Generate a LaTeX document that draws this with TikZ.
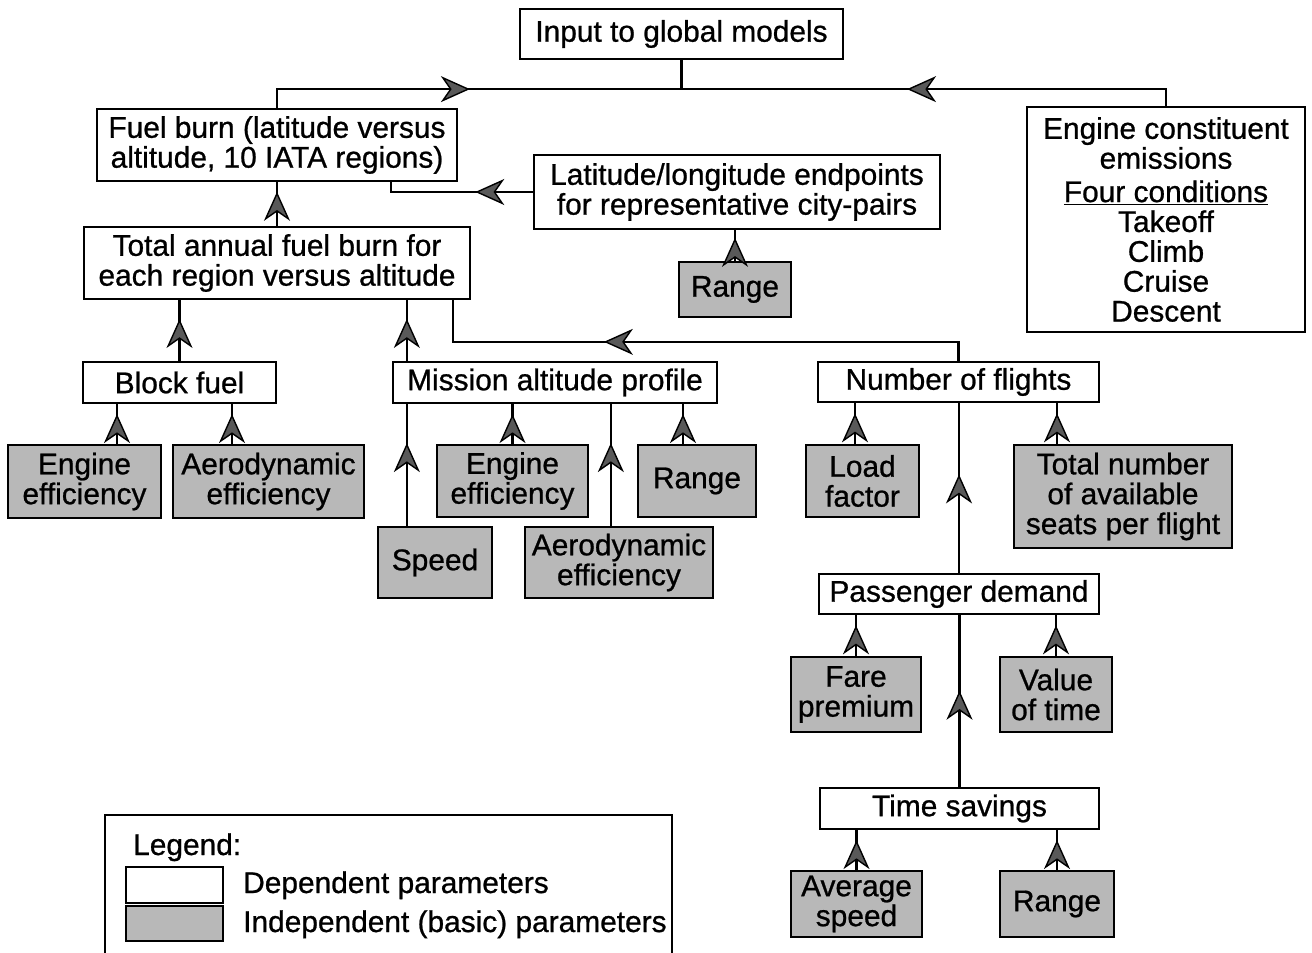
\documentclass[tikz,border=0pt]{standalone}
\usepackage{fontspec}
\setmainfont{Liberation Sans}[UprightFeatures={FakeBold=0.8}]
\usetikzlibrary{arrows.meta,calc,decorations.markings}
\newcommand{\diafont}{\fontsize{17pt}{17pt}\selectfont}
\tikzset{flowtip/.tip={Stealth[length=5.8mm,width=5.2mm,inset=1.8mm,fill=black!65]}}

\begin{document}
\begin{tikzpicture}[x=0.2mm,y=-0.2mm,
  box/.style={draw, line width=1.3pt, inner sep=0pt, align=center, font=\diafont},
  dep/.style={box, fill=white},
  ind/.style={box, fill=black!28},
  link/.style={line width=1.3pt},
  feed/.style={link, postaction={decorate},
    decoration={markings, mark=at position #1 with {\arrow[line width=0.8pt]{flowtip}}}},
  feed/.default=0.75]
\useasboundingbox (0,0) rectangle (1312,953);

% top row
\node[dep, minimum width=64.6mm, minimum height=10mm] (inp) at (681.5,34) {Input to global models};
\node[dep, minimum width=72mm, minimum height=14.4mm] (fb) at (277,145) {Fuel burn (latitude versus\\altitude, 10 IATA regions)};
\node[dep, minimum width=55.6mm, minimum height=45mm] (eng) at (1166,219.5) {Engine constituent\\emissions\\[2pt]\underline{Four conditions}\\Takeoff\\Climb\\Cruise\\Descent};
\node[dep, minimum width=81.2mm, minimum height=14.8mm] (lat) at (737,192) {Latitude/longitude endpoints\\for representative city-pairs};
\node[ind, minimum width=22.4mm, minimum height=11mm] (rng1) at (735,289.5) {Range};
\node[dep, minimum width=77.2mm, minimum height=14.4mm] (tot) at (277,263) {Total annual fuel burn for\\each region versus altitude};

% second level
\node[dep, minimum width=38.6mm, minimum height=8.2mm] (blk) at (179.5,382.5) {Block fuel};
\node[dep, minimum width=64.8mm, minimum height=8.2mm] (mis) at (555,382.5) {Mission altitude profile};
\node[dep, minimum width=56.2mm, minimum height=8mm] (nfl) at (958.5,382) {Number of flights};

% basic parameters
\node[ind, minimum width=30.6mm, minimum height=14.6mm] (ee1) at (84.5,481.5) {Engine\\efficiency};
\node[ind, minimum width=38.2mm, minimum height=14.6mm] (ae1) at (268.5,481.5) {Aerodynamic\\efficiency};
\node[ind, minimum width=30.2mm, minimum height=14.4mm] (ee2) at (512.5,481) {Engine\\efficiency};
\node[ind, minimum width=23.6mm, minimum height=14.4mm] (rng2) at (697,481) {Range};
\node[ind, minimum width=22.8mm, minimum height=14.2mm] (spd) at (435,562.5) {Speed};
\node[ind, minimum width=37.6mm, minimum height=14.2mm] (ae2) at (619,562.5) {Aerodynamic\\efficiency};
\node[ind, minimum width=22.6mm, minimum height=14.4mm] (lf) at (862.5,481) {Load\\factor};
\node[ind, minimum width=43.6mm, minimum height=20.6mm] (seats) at (1123,496.5) {Total number\\of available\\seats per flight};

% demand chain
\node[dep, minimum width=56mm, minimum height=8mm] (pax) at (959,594) {Passenger demand};
\node[ind, minimum width=26mm, minimum height=15mm] (fare) at (856,694.5) {Fare\\premium};
\node[ind, minimum width=22.4mm, minimum height=15mm] (val) at (1056,694.5) {Value\\of time};
\node[dep, minimum width=55.8mm, minimum height=8.2mm] (tsv) at (959.5,808.5) {Time savings};
\node[ind, minimum width=26.2mm, minimum height=13.2mm] (avg) at (856.5,904) {Average\\speed};
\node[ind, minimum width=22.8mm, minimum height=13.2mm] (rng3) at (1057,904) {Range};

% connectors
\coordinate (bus) at ($(inp.south)+(0,29)$);
\draw[link] (inp.south) -- (bus);
\draw[feed=0.5] (fb.north) |- (bus);
\draw[feed=0.55] (eng.north) |- (bus);
\coordinate (fbdrop) at ($(fb.south east)+(-67,0)$);
\draw[feed=0.38] (lat.west) -| (fbdrop);
\draw[feed] (rng1.north) -- (rng1.north |- lat.south);
\draw[feed=0.78] (tot.north) -- (fb.south);
\draw[feed=0.69] (blk.north) -- (blk.north |- tot.south);
\coordinate (totdrop) at ($(tot.south east)+(-18,0)$);
\draw[feed=0.66] (nfl.north) -- ++(0,-19) -| (totdrop);
\coordinate (misx) at ($(mis.south west)+(15,0)$);
\coordinate (misy) at ($(mis.south west)+(219,0)$);
\draw[feed=0.69] (mis.north -| misx) -- (tot.south -| misx);
\draw[feed=0.68] (spd.north -| misx) -- (misx);
\draw[feed=0.68] (ae2.north -| misy) -- (misy);
\draw[feed] (ee2.north) -- (ee2.north |- mis.south);
\draw[feed] ([xshift=-2.8mm]rng2.north) -- ([xshift=-2.8mm]rng2.north |- mis.south);
\draw[feed] ([xshift=6.5mm]ee1.north) -- ([xshift=6.5mm]ee1.north |- blk.south);
\draw[feed] ([xshift=-7.3mm]ae1.north) -- ([xshift=-7.3mm]ae1.north |- blk.south);
\draw[feed] ([xshift=-1.5mm]lf.north) -- ([xshift=-1.5mm]lf.north |- nfl.south);
\draw[feed] ([xshift=-13.2mm]seats.north) -- ([xshift=-13.2mm]seats.north |- nfl.south);
\draw[feed=0.58] (pax.north) -- (pax.north |- nfl.south);
\draw[feed] (fare.north) -- (fare.north |- pax.south);
\draw[feed] (val.north) -- (val.north |- pax.south);
\draw[feed=0.56] (tsv.north) -- (tsv.north |- pax.south);
\draw[feed] (avg.north) -- (avg.north |- tsv.south);
\draw[feed] (rng3.north) -- (rng3.north |- tsv.south);

% legend
\draw[link] (105,953) -- (105,815) -- (672,815) -- (672,953);
\node[anchor=base west, font=\diafont] (lgd) at (127,855) {Legend:};
\node[dep, anchor=north west, minimum width=19.4mm, minimum height=7.2mm] (swdep) at (125,866) {};
\node[ind, anchor=north west, minimum width=19.4mm, minimum height=7mm] (swind) at (125,905) {};
\node[anchor=base west, font=\diafont] (txdep) at (237,893) {Dependent parameters};
\node[anchor=base west, font=\diafont] (txind) at (237,932) {Independent (basic) parameters};
\end{tikzpicture}
\end{document}
